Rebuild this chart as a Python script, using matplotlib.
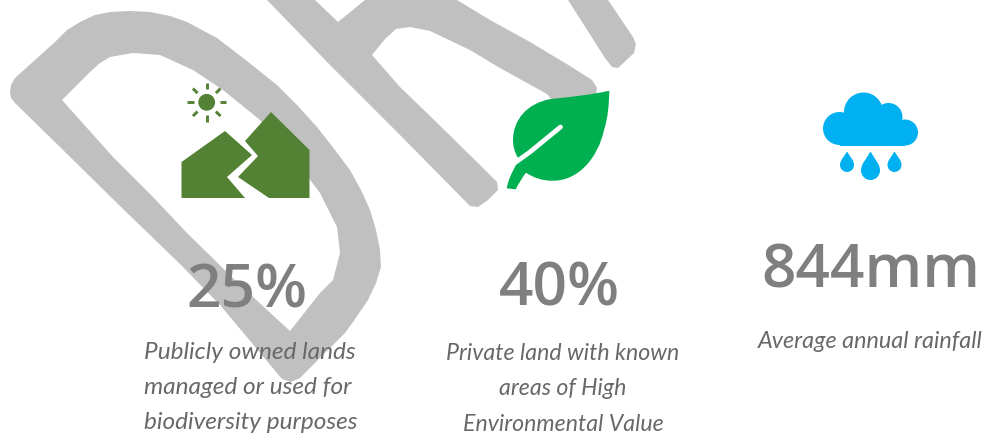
import numpy as np
import matplotlib
matplotlib.use('Agg')
import matplotlib.pyplot as plt
from matplotlib.patches import Polygon, Circle, PathPatch, Rectangle
from matplotlib.path import Path

# stat text
stat_labels = ['25%', '40%', '844mm']
stat_x = [247, 559, 871]
stat_y = [308, 305, 288]
caption_lines = [
    ['Publicly owned lands', 'managed or used for', 'biodiversity purposes'],
    ['Private land with known', 'areas of High', 'Environmental Value'],
    ['Average annual rainfall'],
]
caption_x = [144, 563, 870]
caption_y = [[359, 394, 429], [360, 395, 431], [348]]
caption_ha = ['left', 'center', 'center']
caption_size = [17.6, 16.7, 16.8]

# grey watermark letters, traced in image pixels
d_outer = [(10, 92), (11, 85), (15, 78), (35, 60), (55, 42), (67, 30), (80, 22), (95, 15), (110, 12),
           (130, 11), (150, 12), (170, 16), (187, 22), (217, 38), (247, 61), (277, 85), (297, 105),
           (317, 127), (335, 150), (350, 170), (362, 192), (370, 210), (376, 230), (380, 250),
           (381, 267), (376, 283), (368, 300), (353, 322), (345, 333), (300, 378), (291, 382),
           (282, 379), (220, 305), (180, 264), (120, 206), (60, 147), (15, 103), (11, 98)]
d_inner = [(62, 100), (90, 72), (100, 63), (110, 57), (133, 53), (160, 55), (193, 70), (223, 90),
           (260, 120), (293, 157), (320, 193), (337, 227), (340, 253), (333, 280), (320, 293),
           (290, 331), (240, 285), (187, 233), (153, 197), (113, 157)]
h_shape = [(267, 0), (315, 0), (338, 22), (365, 0), (457, 0), (490, 20), (530, 42), (570, 66),
           (592, 80), (597, 88), (596, 95), (560, 110), (547, 94), (500, 68), (470, 50), (430, 31),
           (410, 27), (396, 29), (385, 39), (372, 55), (400, 87), (427, 113), (480, 165),
           (497, 182), (498, 190), (488, 200), (478, 207), (470, 206), (400, 135), (330, 65)]
third_stroke = [(568, 0), (605, 58), (612, 67), (618, 68), (634, 53), (636, 44), (633, 37), (608, 0)]

# mountain icon
mountain_left = [(181.5, 162), (225, 131), (252, 155), (227, 177), (245, 198), (181.5, 198)]
mountain_right = [(245, 141), (271, 112), (309.5, 150), (309.5, 198), (269, 198), (238, 177), (258, 156)]
sun_xy = (206.7, 102.3)
sun_r = 8.4
ray_angles = [0, 45, 90, 135, 180, 225, 270, 315]

# cloud icon
cloud_circles = [(839.5, 128.5, 16.5), (863.5, 112, 19.5), (888.5, 117, 14), (905, 132.5, 13)]
cloud_base = (840, 125, 65, 20.5)
drops = [(847, 151.5, 172, 7), (870.5, 151.5, 180, 9.5), (894.5, 151.5, 172, 7)]

GREY = '#c0c0c0'
GREEN = '#548235'
LEAF = '#00b050'
BLUE = '#00b0f0'


def drop_path(x, top, bottom, r):
    cy = bottom - r
    verts = [(x, top), (x + r * 0.45, top + (cy - top) * 0.4), (x + r, cy - r * 0.7), (x + r, cy),
             (x + r, bottom - r * 0.45), (x + r * 0.55, bottom), (x, bottom),
             (x - r * 0.55, bottom), (x - r, bottom - r * 0.45), (x - r, cy),
             (x - r, cy - r * 0.7), (x - r * 0.45, top + (cy - top) * 0.4), (x, top)]
    codes = [Path.MOVETO] + [Path.CURVE4] * 12
    return Path(verts, codes)


def leaf_path():
    verts = [(609.3, 90.7),
             (590, 95), (570, 97), (551, 99),
             (527, 103), (513, 120), (513, 140),
             (513, 147), (515, 153), (517.7, 157.3),
             (520, 161), (519, 161), (516, 165),
             (511, 174), (508, 181), (506.7, 188.3),
             (510, 188.7), (513.3, 189), (515.7, 189.3),
             (519, 183), (522, 178), (526, 172.7),
             (534, 178), (543, 181), (553, 180.7),
             (578, 181), (598, 158), (604, 130),
             (608, 118), (609, 104), (609.3, 90.7)]
    codes = [Path.MOVETO] + [Path.CURVE4] * (len(verts) - 1)
    return Path(verts, codes)


fig = plt.figure(figsize=(9.85, 4.34), dpi=100)
ax = fig.add_axes([0, 0, 1, 1])
ax.set_xlim(0, 985)
ax.set_ylim(434, 0)
ax.axis('off')

# watermark
d_path = Path(d_outer + [d_outer[0]] + d_inner[::-1] + [d_inner[-1]],
              [Path.MOVETO] + [Path.LINETO] * (len(d_outer) - 1) + [Path.CLOSEPOLY]
              + [Path.MOVETO] + [Path.LINETO] * (len(d_inner) - 1) + [Path.CLOSEPOLY])
ax.add_patch(PathPatch(d_path, fc=GREY, ec='none'))
ax.add_patch(Polygon(h_shape, fc=GREY, ec='none'))
ax.add_patch(Polygon(third_stroke, fc=GREY, ec='none'))

# mountains and sun
ax.add_patch(Polygon(mountain_left, fc=GREEN, ec='none'))
ax.add_patch(Polygon(mountain_right, fc=GREEN, ec='none'))
ax.add_patch(Circle(sun_xy, sun_r, fc=GREEN, ec='none'))
for a in np.radians(ray_angles):
    ax.plot([sun_xy[0] + 13 * np.cos(a), sun_xy[0] + 19.5 * np.cos(a)],
            [sun_xy[1] + 13 * np.sin(a), sun_xy[1] + 19.5 * np.sin(a)],
            color=GREEN, lw=2.1, solid_capstyle='butt')

# leaf
ax.add_patch(PathPatch(leaf_path(), fc=LEAF, ec='none'))
ax.plot([560.5, 530, 516], [127, 152, 162], color='white', lw=3.4, solid_capstyle='round')

# rain cloud
for cx, cy, r in cloud_circles:
    ax.add_patch(Circle((cx, cy), r, fc=BLUE, ec='none'))
ax.add_patch(Rectangle(cloud_base[:2], cloud_base[2], cloud_base[3], fc=BLUE, ec='none'))
for x, top, bottom, r in drops:
    ax.add_patch(PathPatch(drop_path(x, top, bottom, r), fc=BLUE, ec='none'))

# text
for label, x, y in zip(stat_labels, stat_x, stat_y):
    ax.text(x, y, label, ha='center', va='baseline', fontsize=43.5, color='#7f7f7f',
            family='Open Sans', weight=600)
for lines, x, ys, ha, size in zip(caption_lines, caption_x, caption_y, caption_ha, caption_size):
    for line, y in zip(lines, ys):
        ax.text(x, y, line, ha=ha, va='baseline', fontsize=size, color='#686868',
                family='Lato', style='italic', weight='normal')

fig.savefig('out.png', dpi=100)
